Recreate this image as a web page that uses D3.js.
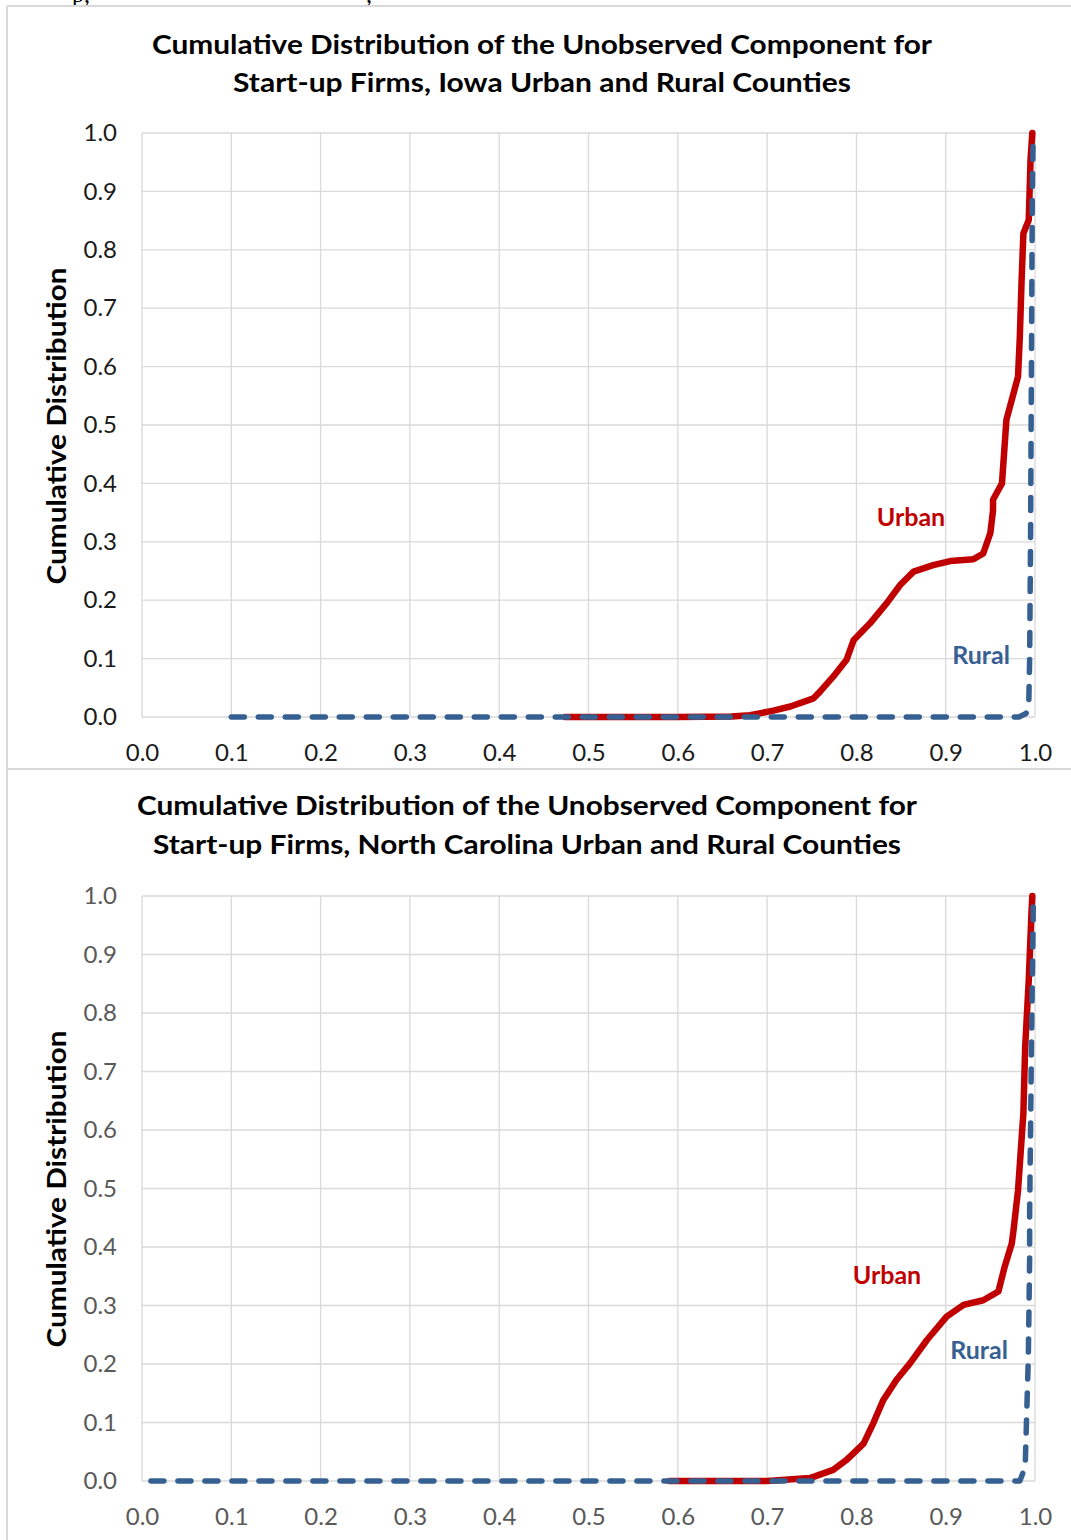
<!DOCTYPE html>
<html><head><meta charset="utf-8">
<script src="https://cdn.jsdelivr.net/npm/d3@7"></script>
<style>body{margin:0;background:#fff}svg{display:block}</style>
</head><body>
<script>
// ---- data ----
const xTicks = [0,0.1,0.2,0.3,0.4,0.5,0.6,0.7,0.8,0.9,1.0];
const yTicks = [0,0.1,0.2,0.3,0.4,0.5,0.6,0.7,0.8,0.9,1.0];

const iowaUrbanX = [0.474,0.60,0.66,0.681,0.707,0.726,0.752,0.759,0.774,0.789,0.797,0.815,0.834,0.849,0.864,0.886,0.905,0.931,0.942,0.950,0.953,0.953,0.963,0.968,0.974,0.981,0.983,0.985,0.987,0.993,0.995,0.997];
const iowaUrbanY = [0,0,0.001,0.003,0.011,0.018,0.032,0.043,0.069,0.098,0.132,0.160,0.195,0.226,0.249,0.260,0.267,0.270,0.280,0.315,0.354,0.372,0.400,0.509,0.543,0.583,0.651,0.748,0.828,0.851,0.954,1.0];
const iowaRuralX = [0.1,0.982,0.990,0.993,0.994,0.995,0.996,0.997,0.998];
const iowaRuralY = [0,0,0.006,0.02,0.1,0.3,0.6,0.9,1.0];

const ncUrbanX = [0.591,0.70,0.748,0.774,0.789,0.808,0.819,0.830,0.845,0.860,0.879,0.901,0.920,0.942,0.959,0.966,0.974,0.976,0.981,0.987,0.989,0.993,0.996,0.997];
const ncUrbanY = [0,0,0.005,0.019,0.036,0.064,0.099,0.138,0.173,0.201,0.241,0.281,0.301,0.309,0.324,0.366,0.406,0.429,0.497,0.629,0.742,0.856,0.970,1.0];
const ncRuralX = [0.01,0.983,0.989,0.9925,0.994,0.994,0.996,0.998,0.998];
const ncRuralY = [0,0,0.024,0.21,0.38,0.46,0.74,0.97,1.0];

const titles = [
  ["Cumulative Distribution of the Unobserved Component for","Start-up Firms, Iowa Urban and Rural Counties"],
  ["Cumulative Distribution of the Unobserved Component for","Start-up Firms, North Carolina Urban and Rural Counties"]
];
const yLabel = "Cumulative Distribution";
const seriesNames = ["Urban","Rural"];

// ---- layout ----
const W = 1071, H = 1540;
const svg = d3.select("body").append("svg").attr("width",W).attr("height",H);
svg.append("rect").attr("width",W).attr("height",H).attr("fill","#fff");

// cut-off document text at the very top (as in the source page)
svg.append("text").attr("x",72).attr("y",2).attr("font-family","Liberation Serif").attr("font-size",24).attr("fill","#000").text("p,");
svg.append("text").attr("x",366).attr("y",2).attr("font-family","Liberation Serif").attr("font-size",24).attr("fill","#000").text(",");

// frame lines
const frameC = "#d9d9d9";
svg.append("line").attr("x1",7).attr("x2",W).attr("y1",6).attr("y2",6).attr("stroke",frameC).attr("stroke-width",2);
svg.append("line").attr("x1",7).attr("x2",7).attr("y1",6).attr("y2",H).attr("stroke",frameC).attr("stroke-width",2);
svg.append("line").attr("x1",7).attr("x2",W).attr("y1",769).attr("y2",769).attr("stroke",frameC).attr("stroke-width",2);

const RED = "#C00000", BLUE = "#376092";

const charts = [
  {top:133, bottom:717, title:titles[0], tcx:542, tY:[54,92], tW:[780,618], tickC:"#1a1a1a",
   ux:iowaUrbanX, uy:iowaUrbanY, rx:iowaRuralX, ry:iowaRuralY,
   uLab:[911,517], rLab:[981,655], yLabY:426},
  {top:896, bottom:1481, title:titles[1], tcx:527, tY:[815,854], tW:[780,748], tickC:"#595959",
   ux:ncUrbanX, uy:ncUrbanY, rx:ncRuralX, ry:ncRuralY,
   uLab:[887,1275], rLab:[979,1350], yLabY:1189}
];

charts.forEach(c => {
  const x = d3.scaleLinear().domain([0,1]).range([142,1035]);
  const y = d3.scaleLinear().domain([0,1]).range([c.bottom,c.top]);
  const g = svg.append("g");

  c.title.forEach((t,i) => {
    g.append("text").attr("x",c.tcx).attr("y",c.tY[i]).attr("text-anchor","middle")
      .attr("font-family","Lato").attr("font-weight","bold").attr("font-size",26)
      .attr("textLength",c.tW[i]).attr("lengthAdjust","spacingAndGlyphs")
      .attr("fill","#000").text(t);
  });

  g.append("g").selectAll("line").data(xTicks).join("line")
    .attr("x1",d=>x(d)).attr("x2",d=>x(d)).attr("y1",c.top).attr("y2",c.bottom)
    .attr("stroke","#d9d9d9").attr("stroke-width",1.3);
  g.append("g").selectAll("line").data(yTicks).join("line")
    .attr("x1",142).attr("x2",1035).attr("y1",d=>y(d)).attr("y2",d=>y(d))
    .attr("stroke","#d9d9d9").attr("stroke-width",1.3);

  const xa = g.append("g").attr("transform",`translate(0,${c.bottom})`)
    .call(d3.axisBottom(x).tickValues(xTicks).tickFormat(d3.format(".1f")).tickSize(0).tickPadding(27));
  const ya = g.append("g").attr("transform",`translate(142,0)`)
    .call(d3.axisLeft(y).tickValues(yTicks).tickFormat(d3.format(".1f")).tickSize(0).tickPadding(25));
  [xa,ya].forEach(a => {
    a.select(".domain").remove();
    a.selectAll("text").attr("font-family","Lato").attr("font-size",24).attr("fill",c.tickC);
  });

  g.append("text").attr("transform",`translate(66,${c.yLabY}) rotate(-90)`).attr("text-anchor","middle")
    .attr("font-family","Lato").attr("font-weight","bold").attr("font-size",26)
    .attr("textLength",317).attr("lengthAdjust","spacingAndGlyphs").attr("fill","#000").text(yLabel);

  const line = d3.line().x(d=>x(d[0])).y(d=>y(d[1]));
  const u = c.ux.map((v,i)=>[v,c.uy[i]]);
  const r = c.rx.map((v,i)=>[v,c.ry[i]]);
  g.append("path").attr("d",line(u)).attr("fill","none").attr("stroke",RED)
    .attr("stroke-width",6.5).attr("stroke-linejoin","round").attr("stroke-linecap","round");
  g.append("path").attr("d",line(r)).attr("fill","none").attr("stroke",BLUE)
    .attr("stroke-width",5.5).attr("stroke-dasharray","13,14").attr("stroke-linecap","round").attr("stroke-linejoin","round");

  g.append("text").attr("x",c.uLab[0]).attr("y",c.uLab[1]).attr("dy","0.35em").attr("text-anchor","middle")
    .attr("font-family","Lato").attr("font-weight","bold").attr("font-size",25).attr("fill",RED).text(seriesNames[0]);
  g.append("text").attr("x",c.rLab[0]).attr("y",c.rLab[1]).attr("dy","0.35em").attr("text-anchor","middle")
    .attr("font-family","Lato").attr("font-weight","bold").attr("font-size",25).attr("fill",BLUE).text(seriesNames[1]);
});
</script>
</body></html>
